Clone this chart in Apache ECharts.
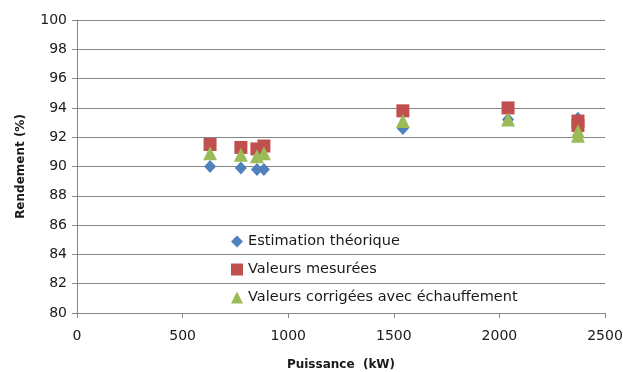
<!DOCTYPE html>
<html>
<head>
<meta charset="utf-8">
<script src="https://cdn.jsdelivr.net/npm/echarts@6/dist/echarts.min.js"></script>
<style>
  html, body { margin: 0; padding: 0; background: #fff; }
  #chart { width: 623px; height: 372px; }
</style>
</head>
<body>
<div id="chart"></div>
<script>
// Puissance (kW) of each measured point
const puissance = [630, 776, 852, 885, 1543, 2041, 2372, 2372];

// Rendement (%) for each series
const estimationTheorique = [90.0, 89.9, 89.8, 89.8, 92.6, 93.2, 93.3, 93.0];
const valeursMesurees = [91.5, 91.3, 91.2, 91.4, 93.8, 94.0, 93.1, 92.8];
const valeursCorrigees = [90.9, 90.8, 90.7, 90.9, 93.1, 93.2, 92.4, 92.1];

const seriesNames = ['Estimation théorique', 'Valeurs mesurées', 'Valeurs corrigées avec échauffement'];
const xTicks = { min: 0, max: 2500, interval: 500 };
const yTicks = { min: 80, max: 100, interval: 2 };

const font = '"DejaVu Sans", sans-serif';
const textColor = '#1a1a1a';

function pairs(ys) {
  return puissance.map((x, i) => [x, ys[i]]);
}

const chart = echarts.init(document.getElementById('chart'), null, { renderer: 'canvas' });

chart.setOption({
  animation: false,
  grid: { left: 77, right: 18, top: 20, bottom: 59, containLabel: false, outerBoundsMode: 'none' },
  legend: {
    orient: 'vertical',
    left: 231,
    top: 234,
    padding: 0,
    itemGap: 13,
    itemWidth: 12,
    itemHeight: 12,
    textStyle: { fontFamily: font, fontSize: 14.5, color: textColor },
    data: [
      { name: seriesNames[0], icon: 'diamond' },
      { name: seriesNames[1], icon: 'rect' },
      { name: seriesNames[2], icon: 'triangle' }
    ]
  },
  xAxis: {
    type: 'value',
    min: xTicks.min,
    max: xTicks.max,
    interval: xTicks.interval,
    name: 'Puissance  (kW)',
    nameLocation: 'middle',
    nameGap: 46,
    nameTextStyle: { fontFamily: font, fontSize: 12, fontWeight: 'bold', color: textColor },
    axisLine: { show: true, onZero: false, lineStyle: { color: '#868686', width: 1 } },
    axisTick: { show: true, inside: false, length: 5, lineStyle: { color: '#868686' } },
    axisLabel: { fontFamily: font, fontSize: 14, color: textColor, margin: 16, formatter: v => String(v) },
    splitLine: { show: false }
  },
  yAxis: {
    type: 'value',
    min: yTicks.min,
    max: yTicks.max,
    interval: yTicks.interval,
    name: 'Rendement (%)',
    nameLocation: 'middle',
    nameGap: 50,
    nameTextStyle: { fontFamily: font, fontSize: 12, fontWeight: 'bold', color: textColor },
    axisLine: { show: true, lineStyle: { color: '#868686', width: 1 } },
    axisTick: { show: true, inside: false, length: 5, lineStyle: { color: '#868686' } },
    axisLabel: { fontFamily: font, fontSize: 14, color: textColor, margin: 10, formatter: v => String(v) },
    splitLine: { show: true, lineStyle: { color: '#868686', width: 1 } }
  },
  series: [
    {
      name: seriesNames[0],
      type: 'scatter',
      symbol: 'diamond',
      symbolSize: [12, 13],
      itemStyle: { color: '#4F81BD', opacity: 1 },
      data: pairs(estimationTheorique),
      z: 2
    },
    {
      name: seriesNames[1],
      type: 'scatter',
      symbol: 'rect',
      symbolSize: 13,
      itemStyle: { color: '#C0504D', opacity: 1 },
      data: pairs(valeursMesurees),
      z: 3
    },
    {
      name: seriesNames[2],
      type: 'scatter',
      symbol: 'triangle',
      symbolSize: [14, 14],
      itemStyle: { color: '#9BBB59', opacity: 1 },
      data: pairs(valeursCorrigees),
      z: 4
    }
  ]
});
</script>
</body>
</html>
